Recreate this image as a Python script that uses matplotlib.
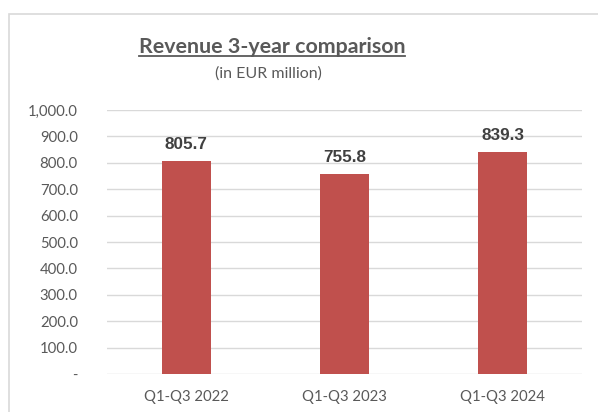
import matplotlib
matplotlib.use("Agg")
import matplotlib.pyplot as plt
from matplotlib.patches import Rectangle
from matplotlib.lines import Line2D

categories = ["Q1-Q3 2022", "Q1-Q3 2023", "Q1-Q3 2024"]
revenue = [805.7, 755.8, 839.3]
yticks = [0, 100, 200, 300, 400, 500, 600, 700, 800, 900, 1000]

W, H = 598, 412
fig = plt.figure(figsize=(W / 100, H / 100), dpi=100)

# chart frame (extends past right/bottom edges like the screenshot)
fig.patches.append(Rectangle((9 / W, -0.1), 1.2, 1 - 14 / H + 0.1,
                             transform=fig.transFigure, fill=False,
                             edgecolor="#d9d9d9", linewidth=1.2))

ax = fig.add_axes([107 / W, 1 - 374 / H, (582 - 107) / W, (374 - 110) / H])
x = range(len(categories))
ax.bar(x, revenue, width=0.31, color="#c0504d", zorder=3)
ax.set_xlim(-0.5, 2.5)
ax.set_ylim(0, 1000)
ax.set_yticks(yticks)
ax.set_yticklabels(["-"] + [f"{v:,.1f}" for v in yticks[1:]])
ax.set_xticks(list(x))
ax.set_xticklabels(categories)
ax.grid(axis="y", color="#d9d9d9", linewidth=1, zorder=0)
for s in ax.spines.values():
    s.set_visible(False)
ax.tick_params(length=0, labelsize=10.7, labelcolor="#595959")
ax.tick_params(axis="y", pad=21)
ax.tick_params(axis="x", pad=11.5)
for lab in ax.get_xticklabels() + ax.get_yticklabels():
    lab.set_family("Lato")

for xi, v in zip(x, revenue):
    ax.text(xi, v + 35, f"{v:.1f}", ha="center", va="bottom",
            fontsize=12.3, fontweight="bold", color="#404040",
            family="Liberation Sans")

title = fig.text(272 / W, 1 - 47 / H, "Revenue 3-year comparison",
                 ha="center", va="center", fontsize=15.4, fontweight="bold",
                 color="#595959", family="Lato")
fig.text(268 / W, 1 - 74 / H, "(in EUR million)", ha="center", va="center",
         fontsize=11.5, color="#595959", family="Lato")

fig.canvas.draw()
bb = title.get_window_extent().transformed(fig.transFigure.inverted())
fig.add_artist(Line2D([bb.x0, bb.x1], [bb.y0 + 0.002, bb.y0 + 0.002],
                      transform=fig.transFigure, color="#595959", linewidth=1.3))

fig.savefig("out.png", dpi=100)
